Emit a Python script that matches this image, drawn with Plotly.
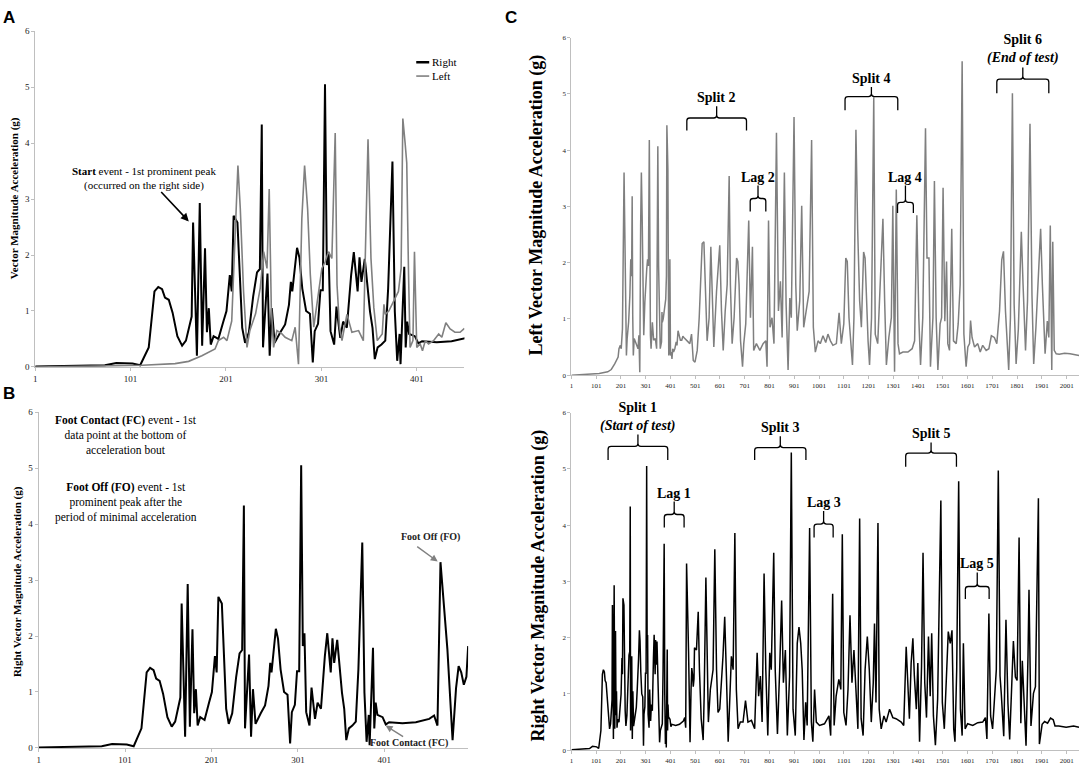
import plotly.graph_objects as go

W, H = 1084, 772
SERIF = "Liberation Serif, Times New Roman, serif"
SANS = "Liberation Sans, Arial, sans-serif"

# Right foot, first ~500 samples (panel A black line, panel B, start of C lower)
right_pts = [(1, 0.01), (40, 0.02), (74, 0.03), (86, 0.07), (95, 0.07), (103, 0.06), (111, 0.03),
             (120, 0.35), (126, 1.35), (130, 1.43), (134, 1.39), (137, 1.24), (141, 1.20), (145, 0.97),
             (150, 0.55), (155, 0.38), (159, 0.47), (163, 0.73), (165, 0.90), (166.5, 2.58), (168.5, 1.38),
             (170.5, 0.20), (173.5, 2.93), (176, 0.38), (179, 2.12), (181, 0.62), (183, 1.05), (185, 0.40),
             (188, 0.55), (193, 0.50), (198, 0.80), (201.5, 1.00), (205, 1.64), (207, 1.35), (209, 2.70),
             (213, 2.58), (218, 0.70), (221, 0.43), (225, 0.62), (229.5, 1.26), (233.5, 1.69), (236.5, 1.75),
             (238.5, 4.33), (239.8, 0.35), (244.5, 1.67), (246.8, 0.20), (249, 1.05), (252, 0.43), (258, 0.62),
             (263, 0.76), (267, 1.11), (269, 1.52), (270.5, 1.35), (272, 1.62), (275.5, 2.13), (278, 1.95),
             (281, 1.40), (285, 1.00), (289, 0.95), (292, 0.08), (294, 0.64), (297.5, 0.77), (300, 1.37),
             (302.5, 1.37), (304.8, 5.05), (306.7, 1.82), (308.6, 2.05), (310.6, 0.64), (314.4, 0.40),
             (316.8, 1.08), (319, 0.75), (320.8, 0.52), (323.8, 0.81), (327.7, 0.70), (332.2, 1.64), (335, 2.05),
             (339, 1.35), (341, 1.96), (343, 1.52), (346.5, 1.93), (352, 0.99), (354.6, 0.70), (357, 0.14),
             (360, 0.35), (364, 0.40), (368, 0.47), (371, 1.40), (375.5, 3.67), (378, 0.99), (380.5, 0.11),
             (383, 0.59), (384, 0.05), (387.9, 1.79), (389.4, 0.35), (391, 0.81), (393, 0.59), (399, 0.55),
             (402.7, 0.42), (406.6, 0.46), (422, 0.44), (437.5, 0.46), (453, 0.52), (458.6, 0.58), (462.5, 0.40),
             (466, 3.32), (474, 1.76), (480, 0.14), (484, 1.07), (487, 1.46), (490, 1.35), (493, 1.13),
             (496, 1.27), (498, 1.82)]

# Left foot, first ~450 samples (panel A grey line, start of C upper)
left_pts = [(1, 0.00), (60, 0.01), (113, 0.03), (147.6, 0.06), (161.8, 0.10), (175.7, 0.20), (189.5, 0.32),
            (193, 0.47), (198.5, 0.53), (202, 0.47), (207, 0.82), (213.5, 3.60), (216, 2.82), (219.4, 1.35),
            (223, 0.35), (226, 0.65), (232, 0.95), (236.9, 1.41), (240.5, 2.06), (244, 1.76), (246.3, 3.18),
            (248.5, 1.06), (250.9, 0.35), (254.4, 0.65), (259.7, 0.59), (263, 0.53), (270, 0.47), (273.5, 0.71),
            (277, 0.05), (280.5, 2.65), (283.4, 3.60), (286.6, 2.82), (289.4, 1.65), (293, 0.71), (297.4, 1.29),
            (301.5, 1.76), (305, 1.88), (308.5, 2.06), (312, 1.94), (315.5, 4.18), (317.4, 1.47), (320, 0.71),
            (322.6, 0.47), (327.8, 0.94), (333, 0.62), (340, 0.65), (345, 0.47), (349.9, 4.07), (353, 1.94),
            (356, 1.06), (359.6, 0.47), (364.8, 0.59), (366.6, 1.12), (368, 0.94), (371.7, 1.00), (378.4, 1.23),
            (381.8, 1.35), (384.6, 1.76), (386.4, 4.44), (388.8, 4.00), (390.5, 3.65), (392.4, 1.65), (394, 0.35),
            (397, 0.47), (398.6, 2.06), (401, 0.35), (404.6, 0.41), (407, 0.29), (410, 0.47), (413.4, 0.41),
            (418.6, 0.47), (424, 0.59), (427.3, 0.53), (431.5, 0.79), (436, 0.68), (441, 0.62), (446.4, 0.62),
            (451, 0.69)]

# rest of the whole test, left foot (C upper)
left_rest = [(455, 0.67), (466, 0.61), (479, 0.56), (486, 0.73), (493, 0.26), (500, 0.23), (509, 0.44),
             (517, 1.02), (524, 1.73), (529, 2.34), (536, 2.37), (543, 1.26), (549, 0.61), (557, 1.02),
             (564, 2.28), (571, 1.26), (576, 0.50), (587, 1.49), (594, 2.05), (600, 2.31), (607, 1.14),
             (614, 0.44), (622, 1.14), (630, 1.61), (638, 3.54), (643, 1.61), (650, 0.56), (658, 1.02),
             (668, 2.08), (673, 2.02), (678, 1.61), (684, 0.61), (692, 0.15), (697, 0.56), (705, 0.91),
             (717, 2.75), (724, 1.02), (732, 2.28), (737, 0.44), (748, 0.56), (762, 0.44), (775, 0.56),
             (786, 0.61), (791, 0.15), (797, 2.75), (803, 0.85), (811, 1.02), (819, 0.56), (829, 4.31),
             (837, 1.14), (845, 1.67), (852, 0.67), (861, 3.60), (868, 1.26), (876, 0.09), (883, 1.37),
             (889, 1.02), (900, 4.59), (907, 1.61), (913, 0.79), (923, 1.32), (931, 3.01), (939, 0.85),
             (950, 1.14), (961, 1.49), (971, 4.18), (978, 0.85), (986, 0.41), (997, 0.61), (1006, 0.56),
             (1017, 0.70), (1028, 0.58), (1037, 0.73), (1047, 0.61), (1057, 0.53), (1071, 0.56), (1082, 1.11),
             (1091, 0.56), (1101, 0.91), (1109, 2.08), (1115, 2.02), (1122, 1.02), (1129, 0.61), (1136, 0.18),
             (1142, 1.02), (1150, 4.36), (1157, 2.60), (1165, 1.32), (1172, 0.85), (1181, 2.19), (1187, 2.08),
             (1192, 1.32), (1199, 0.61), (1205, 0.18), (1213, 1.02), (1222, 4.94), (1228, 0.73), (1238, 0.56),
             (1246, 1.49), (1252, 1.90), (1259, 2.78), (1266, 1.32), (1273, 0.18), (1283, 0.67), (1293, 1.02),
             (1299, 3.01), (1306, 0.06), (1313, 3.30), (1320, 0.56), (1326, 0.38), (1340, 0.41), (1360, 0.41),
             (1377, 0.47), (1387, 0.61), (1396, 2.84), (1404, 1.02), (1411, 0.18), (1420, 1.02), (1431, 4.39),
             (1437, 2.08), (1445, 2.08), (1451, 0.15), (1461, 1.02), (1467, 3.45), (1474, 1.02), (1481, 0.09),
             (1490, 0.91), (1496, 1.02), (1502, 3.33), (1509, 0.96), (1516, 2.02), (1521, 0.56), (1528, 0.44),
             (1537, 2.60), (1544, 0.61), (1555, 0.56), (1563, 0.91), (1571, 1.61), (1579, 5.58), (1586, 0.73),
             (1595, 0.15), (1602, 0.50), (1609, 0.56), (1613, 0.97), (1619, 0.67), (1629, 0.50), (1642, 0.56),
             (1652, 0.41), (1662, 0.53), (1676, 0.44), (1687, 0.47), (1697, 0.70), (1709, 0.67), (1719, 0.56),
             (1730, 1.14), (1739, 2.05), (1746, 2.20), (1754, 1.14), (1762, 0.56), (1767, 0.09), (1774, 1.02),
             (1782, 5.01), (1789, 1.26), (1797, 0.20), (1806, 0.82), (1818, 2.55), (1825, 1.61), (1835, 0.44),
             (1843, 1.32), (1853, 4.47), (1861, 1.43), (1868, 0.20), (1877, 0.85), (1888, 1.78), (1896, 2.60),
             (1903, 1.61), (1914, 0.38), (1923, 0.96), (1929, 0.67), (1935, 2.66), (1941, 0.09), (1945, 2.37),
             (1951, 0.44), (1959, 0.38), (1971, 0.37), (1993, 0.39), (2015, 0.38), (2051, 0.35)]

# rest of the whole test, right foot (C lower)
right_rest = [(506, 1.78), (513, 2.46), (518, 1.43), (525, 0.56), (533, 0.18), (537, 0.96), (544, 3.07),
              (549, 1.32), (554, 0.50), (562, 1.08), (573, 1.43), (580, 3.57), (587, 1.43), (593, 0.67),
              (600, 0.73), (613, 1.67), (620, 2.37), (627, 1.32), (634, 0.15), (640, 0.85), (647, 1.67),
              (654, 1.43), (661, 3.86), (667, 1.08), (674, 0.38), (683, 0.50), (694, 0.50), (704, 0.88),
              (714, 0.50), (728, 0.53), (741, 0.38), (751, 1.73), (757, 0.96), (764, 1.32), (771, 0.50),
              (779, 3.14), (786, 1.43), (794, 0.26), (802, 1.73), (808, 1.43), (818, 3.51), (824, 1.43),
              (833, 0.29), (842, 1.43), (850, 2.66), (857, 1.20), (865, 1.78), (873, 0.26), (882, 1.32),
              (889, 5.29), (896, 0.73), (905, 0.26), (913, 1.90), (920, 2.19), (927, 1.90), (933, 1.43),
              (940, 0.18), (947, 0.85), (953, 0.44), (963, 3.95), (970, 0.50), (976, 0.15), (983, 1.08),
              (990, 0.50), (1003, 0.44), (1023, 0.47), (1041, 0.61), (1048, 0.26), (1056, 2.78), (1062, 0.44),
              (1070, 0.96), (1081, 1.26), (1089, 1.08), (1095, 3.84), (1101, 0.67), (1110, 0.44), (1118, 1.08),
              (1126, 2.40), (1134, 1.20), (1142, 1.78), (1150, 0.96), (1158, 0.38), (1165, 4.12), (1171, 0.56),
              (1179, 0.26), (1187, 1.43), (1196, 2.02), (1204, 1.43), (1212, 0.50), (1220, 1.20), (1225, 2.25),
              (1231, 0.85), (1239, 4.04), (1244, 0.73), (1252, 0.38), (1263, 0.61), (1272, 0.50), (1286, 0.73),
              (1299, 0.58), (1312, 0.56), (1333, 0.50), (1343, 0.44), (1353, 1.84), (1359, 1.08), (1366, 0.56),
              (1373, 1.55), (1380, 1.99), (1386, 1.32), (1394, 0.73), (1400, 1.55), (1407, 0.15), (1415, 1.49),
              (1421, 3.51), (1428, 1.20), (1435, 0.58), (1443, 2.02), (1450, 0.96), (1456, 2.08), (1463, 0.61),
              (1471, 0.09), (1480, 0.91), (1493, 4.44), (1499, 0.85), (1507, 0.38), (1517, 1.32), (1523, 2.11),
              (1531, 1.90), (1538, 2.13), (1545, 0.38), (1550, 0.15), (1557, 1.43), (1565, 4.78), (1572, 0.73),
              (1579, 0.26), (1584, 1.90), (1591, 0.38), (1601, 0.47), (1622, 0.44), (1642, 0.49), (1662, 0.50),
              (1673, 0.58), (1679, 0.20), (1687, 2.43), (1694, 0.61), (1702, 0.38), (1709, 0.85), (1717, 1.43),
              (1725, 4.97), (1732, 1.32), (1737, 1.01), (1747, 0.25), (1756, 2.32), (1764, 0.83), (1771, 0.19),
              (1779, 1.24), (1786, 1.94), (1794, 1.30), (1801, 1.24), (1809, 3.78), (1816, 0.48), (1822, 1.59),
              (1830, 0.89), (1837, 0.08), (1845, 1.68), (1849, 2.85), (1857, 0.43), (1867, 1.01), (1875, 1.13),
              (1882, 2.88), (1887, 4.48), (1891, 0.11), (1902, 0.46), (1912, 0.51), (1924, 0.48), (1936, 0.57),
              (1947, 0.54), (1954, 0.43), (1969, 0.43), (1999, 0.41), (2029, 0.43), (2051, 0.41)]

y_ticks = [0, 1, 2, 3, 4, 5, 6]
x_ticks_ab = [1, 101, 201, 301, 401]
x_ticks_c = [1, 101, 201, 301, 401, 501, 601, 701, 801, 901, 1001, 1101, 1201, 1301, 1401,
             1501, 1601, 1701, 1801, 1901, 2001]

# label, sub-label, x from, x to, y of brace ends, y of brace bar, y of tip
top_braces = [("Split 2", None, 467, 708, 4.35, 4.57, 4.78),
              ("Lag 2", None, 723, 786, 2.91, 3.14, 3.37),
              ("Split 4", None, 1106, 1319, 4.71, 4.95, 5.12),
              ("Lag 4", None, 1318, 1382, 2.88, 3.07, 3.37),
              ("Split 6", "End of test", 1719, 1929, 5.01, 5.26, 5.47)]
bottom_braces = [("Split 1", "Start of test", 149, 390, 5.16, 5.40, 5.61),
                 ("Lag 1", None, 376, 456, 3.96, 4.19, 4.42),
                 ("Split 3", None, 741, 948, 5.16, 5.38, 5.58),
                 ("Lag 3", None, 981, 1058, 3.78, 4.02, 4.25),
                 ("Split 5", None, 1351, 1556, 5.04, 5.28, 5.47),
                 ("Lag 5", None, 1592, 1688, 2.69, 2.91, 3.16)]


def xs(pts):
    return [p[0] for p in pts]


def ys(pts):
    return [p[1] for p in pts]


def px(v):
    return v / W


def py(v):
    return 1 - v / H


full_left = left_pts + left_rest
full_right = right_pts + right_rest

fig = go.Figure()
fig.add_trace(go.Scatter(x=xs(right_pts), y=ys(right_pts), mode="lines", name="Right",
                         line=dict(color="black", width=2), xaxis="x", yaxis="y"))
fig.add_trace(go.Scatter(x=xs(left_pts), y=ys(left_pts), mode="lines", name="Left",
                         line=dict(color="#808080", width=1.6), xaxis="x", yaxis="y"))
fig.add_trace(go.Scatter(x=xs(right_pts), y=ys(right_pts), mode="lines",
                         line=dict(color="black", width=2), xaxis="x2", yaxis="y2"))
fig.add_trace(go.Scatter(x=xs(full_left), y=ys(full_left), mode="lines",
                         line=dict(color="#7f7f7f", width=1.5), xaxis="x3", yaxis="y3"))
fig.add_trace(go.Scatter(x=xs(full_right), y=ys(full_right), mode="lines",
                         line=dict(color="black", width=1.5), xaxis="x4", yaxis="y4"))

axis_common = dict(showline=True, linecolor="#bfbfbf", linewidth=1, ticks="outside", ticklen=3,
                   tickcolor="#bfbfbf", showgrid=False, zeroline=False, fixedrange=True)
ab_font = dict(family=SERIF, size=9, color="#222")
c_font = dict(family=SERIF, size=7, color="#222")

fig.update_layout(
    width=W, height=H, autosize=False, showlegend=False,
    margin=dict(l=0, r=0, t=0, b=0),
    paper_bgcolor="white", plot_bgcolor="white",
    xaxis=dict(domain=[px(33.3), px(463.3)], range=[1, 451], tickvals=x_ticks_ab, anchor="y",
               tickfont=ab_font, **axis_common),
    yaxis=dict(domain=[py(366.7), py(26.5)], range=[0, 6], tickvals=y_ticks, anchor="x",
               tickfont=ab_font, **axis_common),
    xaxis2=dict(domain=[px(36.7), px(467)], range=[1, 498], tickvals=x_ticks_ab, anchor="y2",
                tickfont=ab_font, **axis_common),
    yaxis2=dict(domain=[py(752.7), py(412.5)], range=[0, 6], tickvals=y_ticks, anchor="x2",
                tickfont=ab_font, **axis_common),
    xaxis3=dict(domain=[px(570.5), px(1079)], range=[1, 2051], tickvals=x_ticks_c, anchor="y3",
                tickfont=c_font, **axis_common),
    yaxis3=dict(domain=[py(375), py(33)], range=[0, 6], tickvals=y_ticks, anchor="x3",
                tickfont=c_font, **axis_common),
    xaxis4=dict(domain=[px(570.5), px(1079)], range=[1, 2051], tickvals=x_ticks_c, anchor="y4",
                tickfont=c_font, **axis_common),
    yaxis4=dict(domain=[py(755), py(413)], range=[0, 6], tickvals=y_ticks, anchor="x4",
                tickfont=c_font, **axis_common),
)

ann = []
shapes = []


def paper_text(text, x, y, size, family=SERIF, angle=0, color="black", xanchor="center"):
    ann.append(dict(text=text, x=px(x), y=py(y), xref="paper", yref="paper", showarrow=False,
                    xanchor=xanchor, yanchor="middle", textangle=angle,
                    font=dict(family=family, size=size, color=color)))


# panel letters
paper_text("<b>A</b>", 7, 13, 17, SANS)
paper_text("<b>B</b>", 7, 394, 17, SANS)
paper_text("<b>C</b>", 510, 13, 17, SANS)

# axis titles
paper_text("<b>Vector Magnitude Acceleration (g)</b>", 12.7, 196, 11, angle=-90)
paper_text("<b>Right Vector Magnitude Acceleration (g)</b>", 15.7, 584, 11, angle=-90)
paper_text("<b>Left Vector Magnitude Acceleration (g)</b>", 535, 203, 18, angle=-90)
paper_text("<b>Right Vector Magnitude Acceleration (g)</b>", 537, 588, 18, angle=-90)

# legend of panel A
shapes.append(dict(type="line", xref="paper", yref="paper", x0=px(415), x1=px(428), y0=py(58), y1=py(58),
                   line=dict(color="black", width=2.5)))
shapes.append(dict(type="line", xref="paper", yref="paper", x0=px(415), x1=px(428), y0=py(72), y1=py(72),
                   line=dict(color="#808080", width=1.6)))
paper_text("Right", 429, 58, 11, xanchor="left")
paper_text("Left", 429, 72, 11, xanchor="left")

# panel A / B notes
paper_text("<b>Start</b> event - 1st prominent peak<br>(occurred on the right side)", 142, 175.5, 11)
paper_text("<b>Foot Contact (FC)</b> event - 1st<br>data point at the bottom of<br>acceleration bout",
           124, 436, 11.5)
paper_text("<b>Foot Off (FO)</b> event - 1st<br>prominent peak after the<br>period of minimal acceleration",
           124, 504.5, 11.5)
paper_text("<b>Foot Off (FO)</b>", 429, 539, 10, color="#222")
paper_text("<b>Foot Contact (FC)</b>", 408, 747.7, 10, color="#222")

arrow = dict(text="", showarrow=True, arrowhead=2, arrowsize=1, axref="pixel", ayref="pixel")
ann.append(dict(arrow, x=162, y=2.6, xref="x", yref="y", ax=-29, ay=-31, arrowwidth=1.6, arrowcolor="black"))
ann.append(dict(arrow, x=462.8, y=3.33, xref="x2", yref="y2", ax=-22, ay=-16, arrowwidth=1.4,
                arrowcolor="#808080"))
ann.append(dict(arrow, x=402.5, y=0.40, xref="x2", yref="y2", ax=19, ay=12, arrowwidth=1.4,
                arrowcolor="#808080"))


def brace(label, sub, x0, x1, y_end, y_top, y_tip, xa, ya):
    dx, dy = 12, 0.05
    xc = (x0 + x1) / 2
    path = (f"M {x0},{y_end} L {x0},{y_top - dy} Q {x0},{y_top} {x0 + dx},{y_top} "
            f"L {xc - dx},{y_top} Q {xc},{y_top} {xc},{y_top + dy} L {xc},{y_tip} "
            f"M {xc},{y_top + dy} Q {xc},{y_top} {xc + dx},{y_top} "
            f"L {x1 - dx},{y_top} Q {x1},{y_top} {x1},{y_top - dy} L {x1},{y_end}")
    shapes.append(dict(type="path", path=path, xref=xa, yref=ya, line=dict(color="black", width=1.3)))
    text = f"<b>{label}</b>"
    if sub:
        text += f"<br><b><i>({sub})</i></b>"
    ann.append(dict(text=text, x=xc, y=y_tip, xref=xa, yref=ya, showarrow=False, xanchor="center",
                    yanchor="bottom", yshift=-1, font=dict(family=SERIF, size=14, color="black")))


for b in top_braces:
    brace(*b, "x3", "y3")
for b in bottom_braces:
    brace(*b, "x4", "y4")

fig.update_layout(annotations=ann, shapes=shapes)
# the page's default body margin would push the 1084x772 figure off the window
fig.write_html("out.html", config={"displayModeBar": False},
               post_script="document.body.style.margin = '0px';")
